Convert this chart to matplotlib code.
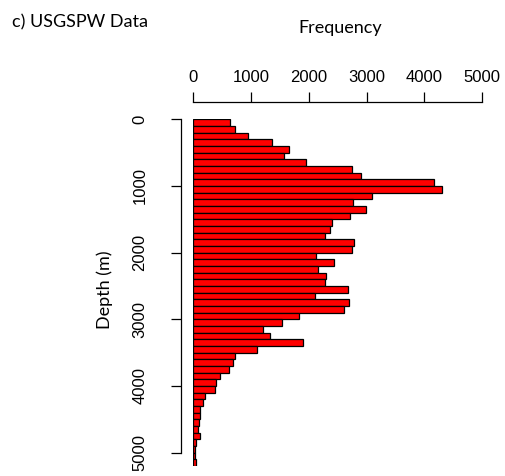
import numpy as np
import matplotlib
matplotlib.use("Agg")
import matplotlib.pyplot as plt

plt.rcParams['font.family'] = ['Liberation Sans', 'DejaVu Sans']

# depth bins (m) and counts per 100 m bin
bin_edges = np.arange(0, 5300, 100)
counts = [628, 727, 940, 1367, 1661, 1575, 1955, 2751, 2907, 4158,
          4297, 3085, 2769, 2994, 2716, 2394, 2365, 2284, 2786, 2751,
          2122, 2429, 2152, 2302, 2284, 2683, 2100, 2689, 2608, 1829,
          1535, 1206, 1327, 1898, 1108, 715, 692, 611, 467, 398,
          381, 208, 173, 121, 121, 98, 87, 110, 40, 35,
          35, 52]
x_ticks = [0, 1000, 2000, 3000, 4000, 5000]
y_ticks = [0, 1000, 2000, 3000, 4000, 5000]

fig = plt.figure(figsize=(5.06, 4.76), dpi=100)
ax = fig.add_axes([0.382, 0.021, 0.5711, 0.7284])

ax.barh(bin_edges[:-1], counts, height=100, align='edge',
        color='#ff0000', edgecolor='black', linewidth=0.9)

ax.set_xlim(0, 5000)
ax.set_ylim(5200, 0)

for s in ['right', 'bottom']:
    ax.spines[s].set_visible(False)
ax.spines['left'].set_position(('outward', 8.9))
ax.spines['left'].set_bounds(0, 5000)
ax.spines['top'].set_position(('outward', 12.7))
ax.spines['top'].set_bounds(0, 5000)
ax.spines['left'].set_linewidth(0.9)
ax.spines['top'].set_linewidth(0.9)

ax.xaxis.tick_top()
ax.set_xticks(x_ticks)
ax.set_yticks(y_ticks)
ax.tick_params(axis='x', length=7.2, width=0.9, pad=5, labelsize=12)
ax.tick_params(axis='y', length=7.2, width=0.9, pad=17, labelsize=12,
               labelrotation=90)
for lab in ax.get_yticklabels():
    lab.set_va('center')

fig.text(12 / 506, 1 - 22 / 476, 'c) USGSPW Data', fontsize=13,
         family='Lato', ha='left', va='center')
fig.text(340 / 506, 1 - 28 / 476, 'Frequency', fontsize=13,
         family='Lato', ha='center', va='center')
fig.text(105 / 506, 1 - 290 / 476, 'Depth (m)', fontsize=13,
         family='Lato', ha='center', va='center', rotation=90)

fig.savefig('out.png', dpi=100)
